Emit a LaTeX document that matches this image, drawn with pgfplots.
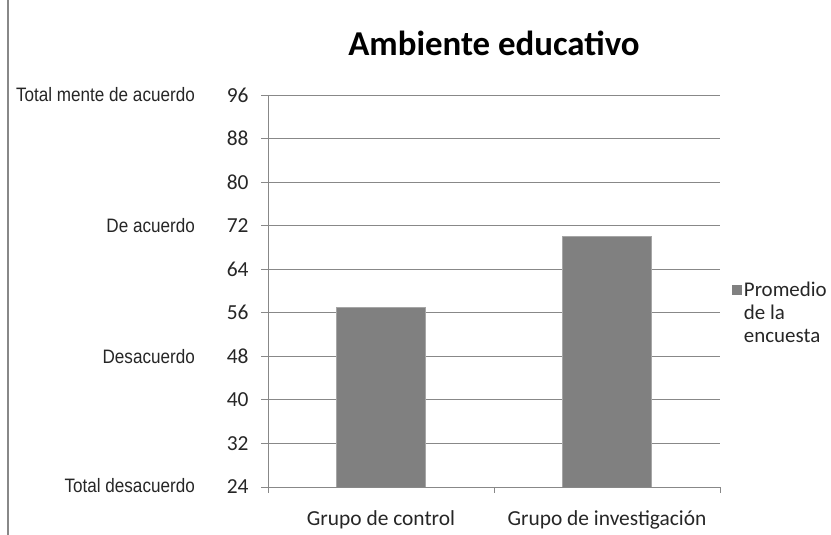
\documentclass[border=0pt]{standalone}
\usepackage{pgfplots}
\pgfplotsset{compat=1.18}
\usepackage{fontspec}
\setmainfont{Carlito}
\newfontfamily\arialn[FakeStretch=0.88]{Liberation Sans}
\definecolor{barg}{HTML}{808080}
\definecolor{gridg}{HTML}{888888}
\begin{document}
\begin{tikzpicture}[x=1bp,y=1bp]
\useasboundingbox (0,0) rectangle (831,535);
\draw[gridg, line width=1.6bp] (8,0) -- (8,535);
\begin{axis}[
  name=ax,
  at={(268bp,48bp)}, anchor=south west,
  scale only axis, width=452bp, height=392bp,
  xmin=-0.5, xmax=1.5, ymin=24, ymax=96,
  ytick={24,32,...,96},
  xtick={0,1},
  xticklabels={Grupo de control, Grupo de investigación},
  minor xtick={-0.5,0.5,1.5},
  major x tick style={draw=none},
  axis x line*=bottom, axis y line*=left,
  tick align=outside,
  ymajorgrids,
  grid style={gridg, line width=0.8bp},
  axis line style={gridg, line width=0.8bp},
  tick style={gridg, line width=0.8bp},
  major tick length=7bp, minor tick length=6bp,
  ybar, bar width=89bp,
  /pgf/number format/assume math mode=true,
  tick label style={font=\fontsize{21.5}{25}\selectfont, text=black!85},
  yticklabel style={xshift=-9bp},
  xticklabel style={yshift=-13bp},
  title={Ambiente educativo},
  title style={font=\bfseries\fontsize{35}{40}\selectfont, yshift=30bp},
  legend style={draw=none, fill=none, inner sep=0pt, at={(1.026,0.444)}, anchor=west,
    font=\fontsize{21}{23}\selectfont, nodes={align=left, text=black!85}},
  legend cell align=left,
  clip mode=individual,
  every axis plot post/.append style={
    legend image code/.code={%
      \path[draw=none, fill=none] (0bp,-28bp) rectangle (10bp,28bp);
      \fill[barg, draw=none] (0bp,18bp) rectangle (10bp,28bp);
    }},
]
\addplot[fill=barg, draw=black!35, line width=0.6bp] coordinates {(0,57) (1,70)};
\addlegendentry{Promedio\\de la\\encuesta}
\end{axis}
\begin{scope}[every node/.style={anchor=east, inner sep=0pt, font=\arialn\fontsize{19.5}{22}\selectfont, text=black!85}]
\node at (195,440) {Total mente de acuerdo};
\node at (195,309) {De acuerdo};
\node at (195,178) {Desacuerdo};
\node at (195,49) {Total desacuerdo};
\end{scope}
\end{tikzpicture}
\end{document}
